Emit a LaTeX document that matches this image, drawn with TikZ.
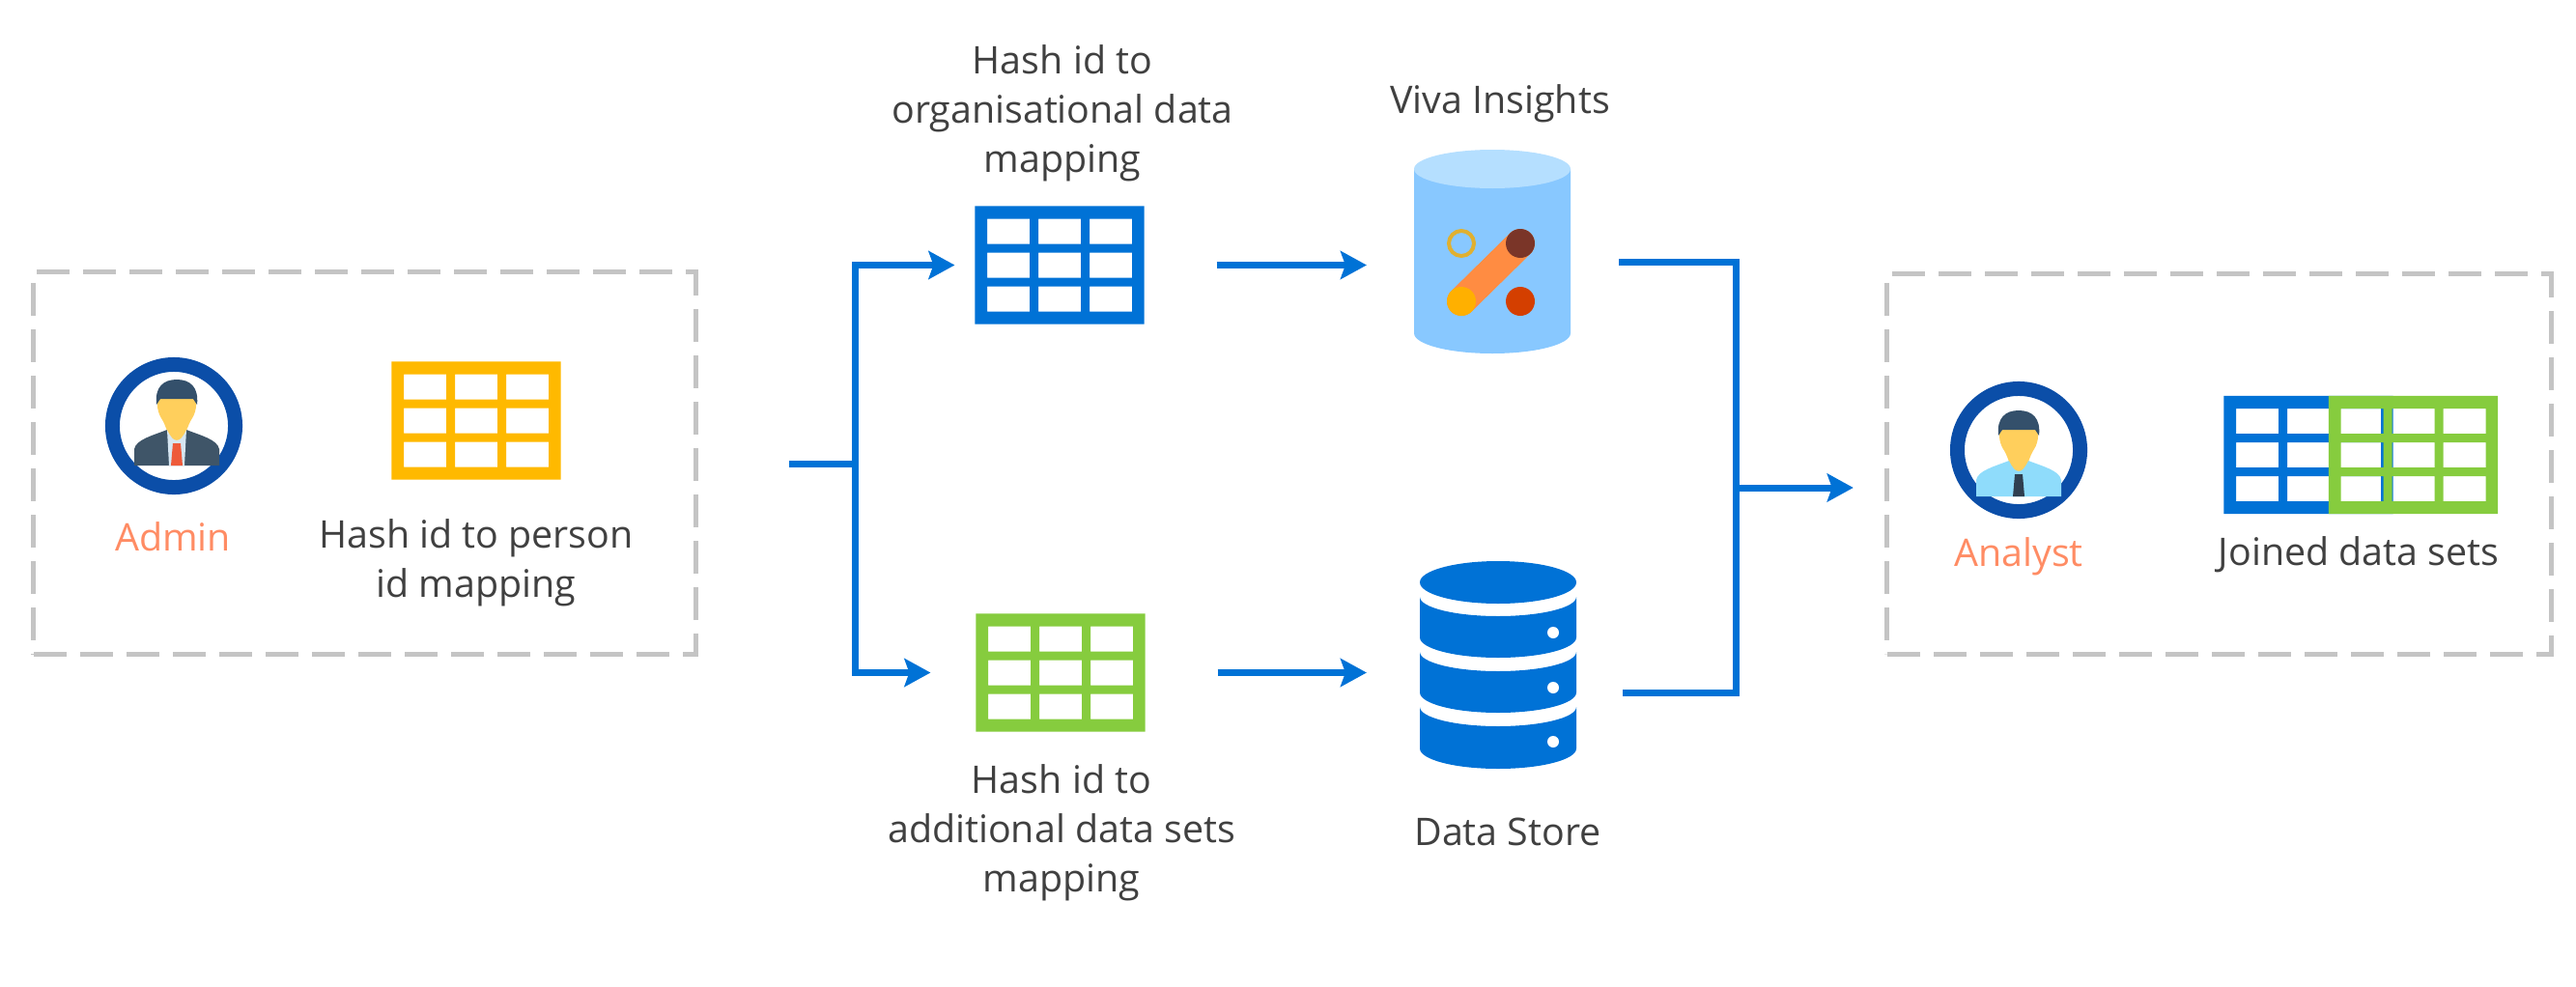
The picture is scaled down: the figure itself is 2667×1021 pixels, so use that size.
\documentclass[tikz,border=0pt]{standalone}
\usepackage{fontspec}
\setmainfont{Open Sans}
\usetikzlibrary{arrows.meta}
\definecolor{flowblue}{HTML}{0072D6}
\definecolor{ringblue}{HTML}{0B4EA8}
\definecolor{tableyellow}{HTML}{FFB900}
\definecolor{tablegreen}{HTML}{86CC3E}
\definecolor{roleorange}{HTML}{FF8C64}
\definecolor{textgray}{HTML}{404040}
\definecolor{dashgray}{HTML}{C4C4C4}
\definecolor{hairdark}{HTML}{34506B}
\definecolor{skinyellow}{HTML}{FFCF5C}
\definecolor{suitdark}{HTML}{3F5568}
\definecolor{shirtpale}{HTML}{D6E6F2}
\definecolor{tiered}{HTML}{EE5A3A}
\definecolor{shirtblue}{HTML}{8FDCFB}
\definecolor{tiedark}{HTML}{2F3F50}
\definecolor{vivabody}{HTML}{88C8FF}
\definecolor{vivatop}{HTML}{B5DFFF}
\definecolor{vivabar}{HTML}{FF8C42}
\definecolor{vivagold}{HTML}{E0B030}
\definecolor{vivabrown}{HTML}{7A3528}
\definecolor{vivayellow}{HTML}{FFB000}
\definecolor{vivared}{HTML}{D43F00}
\tikzset{
  >={Stealth[length=0.27cm,width=0.29cm,inset=0.05cm]},
  flow/.style={line width=0.07cm, flowblue},
  dashbox/.style={draw=dashgray, line width=0.05cm, dash pattern=on 0.34cm off 0.14cm, inner sep=0pt, outer sep=0pt},
  tablebox/.style={minimum width=1.75cm, minimum height=1.22cm, inner sep=0pt, outer sep=0pt},
  iconbox/.style={inner sep=0pt, outer sep=0pt},
  ring/.style={circle, draw=ringblue, line width=0.15cm, minimum size=1.27cm, inner sep=0pt},
  txtlabel/.style={align=center, text=textgray, font=\fontsize{11.2}{14.5}\selectfont, inner sep=0pt},
  rolelabel/.style={text=roleorange, font=\fontsize{11.2}{14.5}\selectfont, inner sep=0pt}
}
% table icon: frame with nine holes, so that what lies below shows through
\newcommand{\tablegrid}[2]{
  \fill[#2, even odd rule] (#1.south west) rectangle (#1.north east)
    \foreach \cx in {-53,0,53} { \foreach \cy in {-35,0,35} {
      ([shift={(\cx-22,\cy-13)}]#1.center) rectangle ++(44,26) } };
}
% person icon, local origin on top of the hair
\newcommand{\personicon}[5]{
  \begin{scope}[shift={([shift={#2}]#1.center)}]
    \fill[#3] (-44,-89) -- (-44,-72) .. controls (-42,-62) and (-25,-58) .. (-10,-52)
      -- (10,-52) .. controls (25,-58) and (42,-62) .. (44,-72) -- (44,-89) -- cycle;
    \fill[#4] (-10,-52) -- (10,-52) -- (8,-89) -- (-8,-89) -- cycle;
    \fill[#5] (-4,-66) -- (4,-66) -- (6,-89) -- (-6,-89) -- cycle;
    \fill[skinyellow, rounded corners=2] (-20,-16) -- (-20,-34) -- (-12,-46) -- (-10,-54)
      -- (0,-66) -- (10,-54) -- (12,-46) -- (20,-34) -- (20,-16) -- cycle;
    \fill[hairdark] (-21,-26) .. controls (-23,-8) and (-14,0) .. (0,0)
      .. controls (14,0) and (23,-8) .. (21,-26) -- (17,-20) -- (-17,-20) -- cycle;
  \end{scope}
}

\begin{document}
\begin{tikzpicture}[x=0.01cm, y=0.01cm]
    \useasboundingbox (0,0) rectangle (2667,-1021);
    % dashed groups
    \node[dashbox, minimum width=6.85cm, minimum height=3.95cm] (adminbox) at (377.5,-479.5) {};
    \node[dashbox, minimum width=6.87cm, minimum height=3.93cm] (analystbox) at (2297.5,-480.5) {};

    % left group
    \node[ring] (adminicon) at (180,-441) {};
    \personicon{adminicon}{(3,48)}{suitdark}{shirtpale}{tiered}
    \node[rolelabel] (adminlabel) at (179,-556) {Admin};
    \node[tablebox] (tableadmin) at (493,-435.5) {};
    \tablegrid{tableadmin}{tableyellow}
    \node[txtlabel] (adminmap) at (493,-583) {Hash id to person\\id mapping};

    % tables in the middle
    \node[tablebox] (tableorg) at (1097,-274.5) {};
    \tablegrid{tableorg}{flowblue}
    \node[txtlabel] (orgmap) at (1100,-117) {Hash id to\\organisational data\\mapping};
    \node[tablebox] (tableadd) at (1098,-696.5) {};
    \tablegrid{tableadd}{tablegreen}
    \node[txtlabel] (addmap) at (1099,-862) {Hash id to\\additional data sets\\mapping};

    % viva cylinder
    \node[iconbox, minimum width=1.62cm, minimum height=2.11cm] (viva) at (1545,-260.5) {};
    \fill[vivabody] (1464,-175) -- (1464,-345) arc[start angle=180, end angle=360, x radius=81, y radius=21]
      -- (1626,-175) -- cycle;
    \fill[vivatop] (1545,-175) ellipse [x radius=81, y radius=20];
    \draw[line width=0.3cm, vivabar, line cap=round] (1513,-312) -- (1574,-252);
    \draw[line width=0.04cm, vivagold] (1513,-252) circle [radius=13];
    \fill[vivabrown] (1574,-252) circle [radius=15];
    \fill[vivayellow] (1513,-312) circle [radius=15];
    \fill[vivared] (1574,-312) circle [radius=15];
    \node[txtlabel] (vivalabel) at (1553,-107) {Viva Insights};

    % data store
    \node[iconbox, minimum width=1.62cm, minimum height=2.16cm] (store) at (1551,-689) {};
    \fill[flowblue] (1551,-603) ellipse [x radius=81, y radius=22];
    \foreach \ya/\yb in {618/660,675/717,732/775} {
      \fill[flowblue] (1470,-\ya) arc[start angle=180, end angle=360, x radius=81, y radius=20]
        -- (1632,-\yb) arc[start angle=0, end angle=-180, x radius=81, y radius=21] -- cycle;
    }
    \foreach \yd in {655,712,768} {
      \fill[white] (1608,-\yd) circle [radius=6];
    }
    \node[txtlabel] (storelabel) at (1561,-861) {Data Store};

    % right group
    \node[ring] (analysticon) at (2090,-466) {};
    \personicon{analysticon}{(0,41)}{shirtblue}{shirtblue}{tiedark}
    \node[rolelabel] (analystlabel) at (2090,-576) {Analyst};
    \node[tablebox] (tablejoina) at (2390,-471) {};
    \tablegrid{tablejoina}{flowblue}
    \node[tablebox] (tablejoinb) at (2498.5,-471) {};
    \tablegrid{tablejoinb}{tablegreen}
    \node[txtlabel] (joinlabel) at (2442,-574) {Joined data sets};

    % connectors
    \coordinate (split) at (885,-480);
    \coordinate (merge) at (1797,-505);
    \draw[flow] ([xshift=0.97cm]adminbox.east |- split) -- (split);
    \draw[flow, ->] (split) |- ([xshift=-0.21cm]tableorg.west);
    \draw[flow, ->] (split) |- ([xshift=-0.47cm]tableadd.west);
    \draw[flow, ->] ([xshift=0.75cm]tableorg.east) -- ([xshift=-0.49cm]viva.west |- tableorg.east);
    \draw[flow, ->] ([xshift=0.75cm]tableadd.east) -- ([xshift=-0.55cm]store.west |- tableadd.east);
    \draw[flow] ([xshift=0.50cm]viva.east |- 0,-271) -| (merge);
    \draw[flow] ([xshift=0.48cm]store.east |- 0,-717) -| (merge);
    \draw[flow, ->] (merge) -- ([xshift=-0.35cm]analystbox.west |- merge);
\end{tikzpicture}
\end{document}
